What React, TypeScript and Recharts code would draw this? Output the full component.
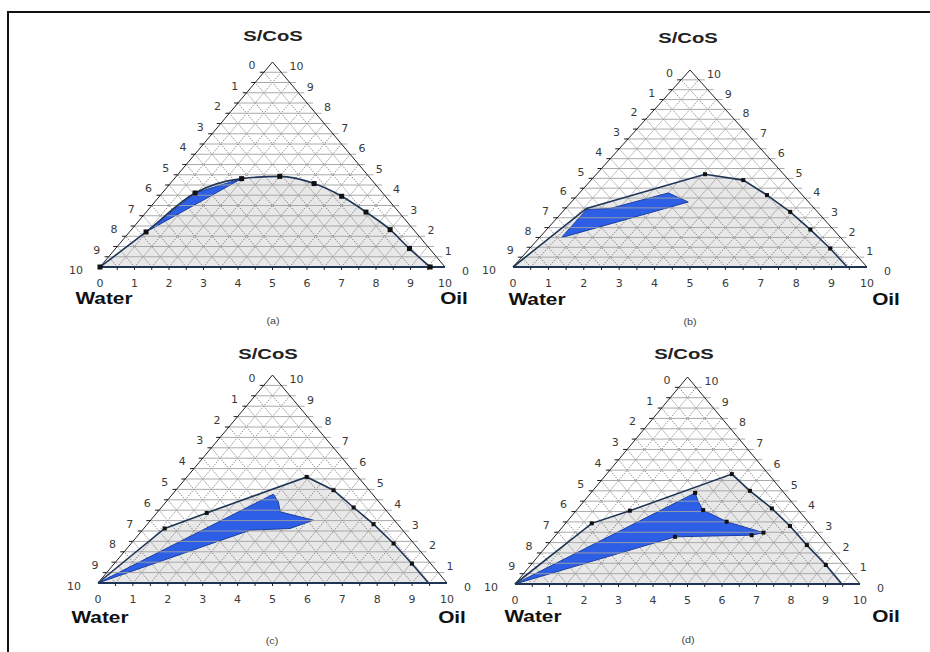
import React from 'react';
import { ScatterChart, Scatter, XAxis, YAxis } from 'recharts';

// Ternary points are [oil, S/CoS] on a 0-10 scale (water = 10 - oil - S/CoS)
type TP = [number, number];

const TICK_VALUES = [0, 1, 2, 3, 4, 5, 6, 7, 8, 9, 10];
const GRID_STEPS = [0.5, 1, 1.5, 2, 2.5, 3, 3.5, 4, 4.5, 5, 5.5, 6, 6.5, 7, 7.5, 8, 8.5, 9, 9.5];
const TRIANGLE: TP[] = [[0, 0], [0, 10], [10, 0], [0, 0]];
const BASE: TP[] = [[0, 0], [10, 0]];

// Panel (a)
const aBoundary: TP[] = [[0, 0], [0.48, 1.71], [0.95, 3.61], [1.95, 4.31], [3.0, 4.42], [4.17, 4.07], [5.28, 3.45], [6.37, 2.68], [7.5, 1.82], [8.52, 0.9], [9.57, 0]];
const aBlue: TP[] = [[0.48, 1.71], [0.95, 3.61], [1.95, 4.31]];
const aMarkers: TP[] = [[0, 0], [0.48, 1.71], [0.95, 3.61], [1.95, 4.31], [3.0, 4.42], [4.17, 4.07], [5.28, 3.45], [6.37, 2.68], [7.5, 1.82], [8.52, 0.9], [9.57, 0]];

// Panel (b)
const bBoundary: TP[] = [[0, 0], [0.59, 2.97], [3.07, 4.71], [4.3, 4.41], [5.35, 3.65], [6.43, 2.8], [7.45, 1.9], [8.49, 0.94], [9.44, 0]];
const bBlue: TP[] = [[0.62, 1.49], [0.62, 2.92], [1.25, 2.97], [2.51, 3.76], [3.3, 3.3]];
const bMarkers: TP[] = [[3.07, 4.71], [4.3, 4.41], [5.35, 3.65], [6.43, 2.8], [7.45, 1.9], [8.49, 0.94]];

// Panel (c)
const cBoundary: TP[] = [[0, 0], [0.6, 2.62], [1.43, 3.37], [3.43, 5.1], [4.52, 4.46], [5.51, 3.63], [6.48, 2.83], [7.52, 1.9], [8.53, 0.93], [9.47, 0]];
const cBlue: TP[] = [[0, 0], [2.89, 4.27], [3.22, 3.9], [3.51, 3.42], [4.66, 3.02], [4.19, 2.62], [3.09, 2.54]];
const cMarkers: TP[] = [[0.6, 2.62], [1.43, 3.37], [3.43, 5.1], [4.52, 4.46], [5.51, 3.63], [6.48, 2.83], [7.52, 1.9], [8.53, 0.93]];

// Panel (d)
const dBoundary: TP[] = [[0, 0], [0.76, 2.93], [1.56, 3.54], [3.63, 5.31], [4.56, 4.5], [5.62, 3.65], [6.57, 2.8], [7.52, 1.88], [8.55, 0.92], [9.47, 0]];
const dBlue: TP[] = [[0, 0], [3.02, 4.4], [3.33, 3.97], [3.67, 3.57], [4.63, 3.01], [5.96, 2.48], [5.68, 2.36], [3.5, 2.28]];
const dMarkers: TP[] = [[0.76, 2.93], [1.56, 3.54], [3.63, 5.31], [4.56, 4.5], [5.62, 3.65], [6.57, 2.8], [7.52, 1.88], [8.55, 0.92], [3.02, 4.4], [3.67, 3.57], [4.63, 3.01], [5.96, 2.48], [5.68, 2.36], [3.5, 2.28]];

const toXY = (p: TP) => ({ x: p[0] + p[1] / 2, y: p[1] });
const closed = (pts: TP[]) => [...pts, pts[0]].map(toXY);

const hSegs = GRID_STEPS.flatMap((s) => [toXY([0, s]), toXY([10 - s, s])]);
const oilSegs = GRID_STEPS.flatMap((k) => [toXY([k, 0]), toXY([k, 10 - k])]);
const waterSegs = GRID_STEPS.flatMap((k) => [toXY([k, 0]), toXY([0, k])]);
const leftTickPts = GRID_STEPS.map((s) => toXY([0, s]));
const bottomTickPts = GRID_STEPS.map((k) => toXY([k, 0]));
const bottomLabels = TICK_VALUES.map((v) => ({ ...toXY([v, 0]), label: String(v) }));
const leftLabels = TICK_VALUES.map((v) => ({ ...toXY([0, 10 - v]), label: String(v) }));
const rightLabels = TICK_VALUES.map((v) => ({ ...toXY([10 - v, v]), label: String(v) }));

const Empty = () => <g />;

const segLine = (style: any, extL = 0, extR = 0) => (props: any) => {
  const pts = props.points || [];
  const out: any[] = [];
  for (let i = 0; i + 1 < pts.length; i += 2) {
    const a = pts[i];
    const b = pts[i + 1];
    out.push(<line key={i} x1={a.x - extL} y1={a.y} x2={b.x + extR} y2={b.y} {...style} />);
  }
  return <g>{out}</g>;
};

const labelShape = (dx: number, dy: number, anchor: string) => (props: any) => (
  <text x={props.cx + dx} y={props.cy + dy} textAnchor={anchor} fontSize={11} fontFamily="DejaVu Sans" fill="#3a3a3a">
    {props.payload && props.payload.label}
  </text>
);

const squareShape = (size: number) => (props: any) => (
  <rect x={props.cx - size / 2} y={props.cy - size / 2} width={size} height={size} fill="#111" />
);

const leftTickShape = (props: any) => <line x1={props.cx - 4} y1={props.cy} x2={props.cx} y2={props.cy} stroke="#222" strokeWidth={1} />;
const bottomTickShape = (props: any) => <line x1={props.cx} y1={props.cy} x2={props.cx} y2={props.cy + 3} stroke="#222" strokeWidth={1} />;

const panels = [
  { id: 'a', L: 100, R: 445, T: 62, B: 267, boundary: aBoundary, blue: aBlue, markers: aMarkers, curve: 'monotoneX', mSize: 5, title: [273, 35], water: [104, 299], oil: [454, 299], tag: [273, 321], tagText: '(a)' },
  { id: 'b', L: 513, R: 867, T: 70, B: 267, boundary: bBoundary, blue: bBlue, markers: bMarkers, curve: 'linear', mSize: 4, title: [688, 37], water: [537, 300], oil: [886, 300], tag: [690, 322], tagText: '(b)' },
  { id: 'c', L: 98, R: 447, T: 375, B: 583, boundary: cBoundary, blue: cBlue, markers: cMarkers, curve: 'linear', mSize: 4, title: [268, 353], water: [100, 618], oil: [452, 618], tag: [272, 641], tagText: '(c)' },
  { id: 'd', L: 515, R: 860, T: 377, B: 584, boundary: dBoundary, blue: dBlue, markers: dMarkers, curve: 'linear', mSize: 4, title: [684, 353], water: [533, 617], oil: [886, 617], tag: [688, 640], tagText: '(d)' },
];

function TernaryPanel({ spec }: any) {
  const { L, R, T, B } = spec;
  const grayFill = { fill: '#e8e8e8', stroke: 'none' };
  const diag = { stroke: '#5e5e5e', strokeWidth: 0.7, strokeDasharray: '1.5 1.2' };
  return (
    <div style={{ position: 'absolute', left: L - 60, top: T - 50 }}>
      <ScatterChart width={R - L + 120} height={B - T + 100} margin={{ left: 60, right: 60, top: 50, bottom: 50 }}>
        <XAxis type="number" dataKey="x" domain={[0, 10]} hide />
        <YAxis type="number" dataKey="y" domain={[0, 10]} hide />
        <Scatter data={spec.boundary.map(toXY)} shape={Empty} line={grayFill} lineJointType={spec.curve} isAnimationActive={false} />
        <Scatter data={oilSegs} shape={Empty} line={segLine(diag)} isAnimationActive={false} />
        <Scatter data={waterSegs} shape={Empty} line={segLine(diag)} isAnimationActive={false} />
        <Scatter data={closed(spec.blue)} shape={Empty} line={{ fill: '#2c5fe6', stroke: '#1d3f9e', strokeWidth: 1 }} isAnimationActive={false} />
        <Scatter data={hSegs} shape={Empty} line={segLine({ stroke: '#a0a0a0', strokeWidth: 0.9 }, 2, 6)} isAnimationActive={false} />
        <Scatter data={TRIANGLE.map(toXY)} shape={Empty} line={{ stroke: '#222', strokeWidth: 1, fill: 'none' }} isAnimationActive={false} />
        <Scatter data={spec.boundary.map(toXY)} shape={Empty} line={{ stroke: '#1f3556', strokeWidth: 1.6, fill: 'none' }} lineJointType={spec.curve} isAnimationActive={false} />
        <Scatter data={BASE.map(toXY)} shape={Empty} line={{ stroke: '#1f3556', strokeWidth: 2, fill: 'none' }} isAnimationActive={false} />
        <Scatter data={leftTickPts} shape={leftTickShape} isAnimationActive={false} />
        <Scatter data={bottomTickPts} shape={bottomTickShape} isAnimationActive={false} />
        <Scatter data={spec.markers.map(toXY)} shape={squareShape(spec.mSize)} isAnimationActive={false} />
        <Scatter data={bottomLabels} shape={labelShape(0, 20, 'middle')} isAnimationActive={false} />
        <Scatter data={leftLabels} shape={labelShape(-17, 7, 'end')} isAnimationActive={false} />
        <Scatter data={rightLabels} shape={labelShape(17, 8, 'start')} isAnimationActive={false} />
      </ScatterChart>
    </div>
  );
}

function Label({ x, y, text, size, bold, color, sx }: any) {
  return (
    <div
      style={{
        position: 'absolute',
        left: x,
        top: y,
        transform: `translate(-50%, -50%) scaleX(${sx})`,
        fontFamily: 'Liberation Sans, Arial, sans-serif',
        fontWeight: bold ? 700 : 400,
        fontSize: size,
        color,
        whiteSpace: 'nowrap',
        lineHeight: 1,
      }}
    >
      {text}
    </div>
  );
}

export default function App() {
  return (
    <div style={{ position: 'absolute', left: 0, top: 0, width: 930, height: 652, overflow: 'hidden', background: '#fff' }}>
      <div style={{ position: 'absolute', left: 7, top: 11, width: 960, height: 700, borderLeft: '2px solid #111', borderTop: '2px solid #111' }} />
      {panels.map((p) => (
        <TernaryPanel key={p.id} spec={p} />
      ))}
      {panels.map((p) => (
        <React.Fragment key={'t' + p.id}>
          <Label x={p.title[0]} y={p.title[1]} text="S/CoS" size={15} bold color="#222" sx={1.35} />
          <Label x={p.water[0]} y={p.water[1]} text="Water" size={16} bold color="#111" sx={1.3} />
          <Label x={p.oil[0]} y={p.oil[1]} text="Oil" size={16} bold color="#111" sx={1.3} />
          <Label x={p.tag[0]} y={p.tag[1]} text={p.tagText} size={9} color="#444" sx={1.2} />
        </React.Fragment>
      ))}
    </div>
  );
}
